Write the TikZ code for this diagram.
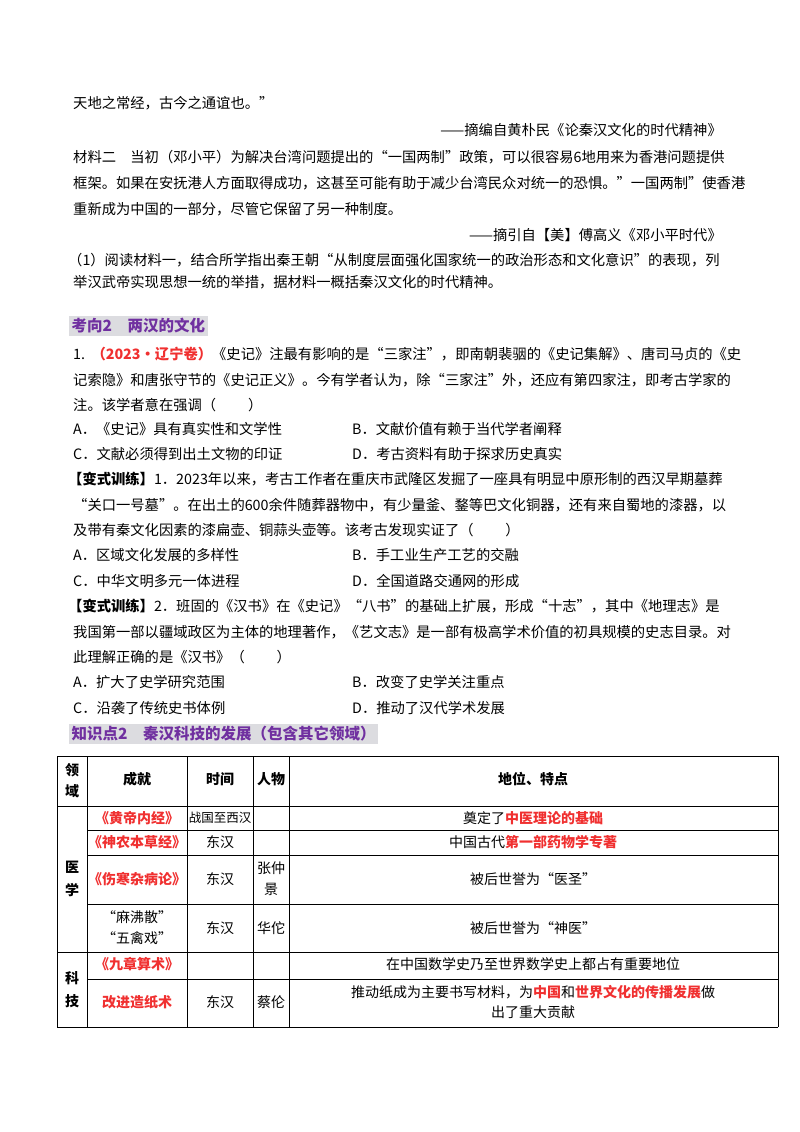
\documentclass[tikz,border=0pt]{standalone}
\usepackage{fontspec}
\setmainfont{Noto Sans CJK SC}
\newfontfamily\cjk{Noto Sans CJK SC}
\definecolor{hred}{HTML}{F03030}
\definecolor{hpur}{HTML}{7030A0}
\definecolor{hgray}{HTML}{DCDCE0}
\begin{document}
\begin{tikzpicture}[x=1pt,y=-1pt,
  t/.style={anchor=west,inner sep=0pt,font=\fontsize{14.3}{15}\selectfont},
  r/.style={anchor=east,inner sep=0pt,font=\fontsize{14.3}{15}\selectfont},
  hd/.style={anchor=west,inner sep=2.5pt,fill=hgray,text=hpur,font=\fontsize{15.5}{17}\selectfont\bfseries},
  c/.style={inner sep=0pt,font=\fontsize{14}{15}\selectfont,align=center},
  cb/.style={c,font=\fontsize{14}{15}\selectfont\bfseries},
  rb/.style={text=hred,font=\fontsize{14}{15}\selectfont\bfseries},
  grid/.style={line width=0.8pt}]
\useasboundingbox (0,0) rectangle (800,1132);
\node[t] (l1) at (73,103) {天地之常经，古今之通谊也。”};
\node[r] (l2) at (722,130) {——摘编自黄朴民《论秦汉文化的时代精神》};
\node[t] (l3) at (73,157) {材料二\quad 当初（邓小平）为解决台湾问题提出的“一国两制”政策，可以很容易6地用来为香港问题提供};
\node[t] (l4) at (73,183) {框架。如果在安抚港人方面取得成功，这甚至可能有助于减少台湾民众对统一的恐惧。"一国两制"使香港};
\node[t] (l5) at (73,209) {重新成为中国的一部分，尽管它保留了另一种制度。};
\node[r] (l6) at (722,235) {——摘引自【美】傅高义《邓小平时代》};
\node[t] (l7) at (68,260) {（1）阅读材料一，结合所学指出秦王朝“从制度层面强化国家统一的政治形态和文化意识”的表现，列};
\node[t] (l8) at (73,282) {举汉武帝实现思想一统的举措，据材料一概括秦汉文化的时代精神。};
\node[hd] (h1) at (69,326) {考向2\quad 两汉的文化};
\node[t] (q1) at (73,354) {1.\ \ {\color{hred}\bfseries（2023·辽宁卷）}《史记》注最有影响的是“三家注”，即南朝裴骃的《史记集解》、唐司马贞的《史};
\node[t] (q2) at (73,380) {记索隐》和唐张守节的《史记正义》。今有学者认为，除“三家注”外，还应有第四家注，即考古学家的};
\node[t] (q3) at (73,405) {注。该学者意在强调（\qquad\ ）};
\node[t] (q4) at (73,429) {A．《史记》具有真实性和文学性};
\node[t] (q5) at (352,429) {B．文献价值有赖于当代学者阐释};
\node[t] (q6) at (73,454) {C．文献必须得到出土文物的印证};
\node[t] (q7) at (352,454) {D．考古资料有助于探求历史真实};
\node[t] (v1) at (68,479) {\textbf{【变式训练】}1．2023年以来，考古工作者在重庆市武隆区发掘了一座具有明显中原形制的西汉早期墓葬};
\node[t] (v2) at (73,505) {“关口一号墓”。在出土的600余件随葬器物中，有少量釜、鍪等巴文化铜器，还有来自蜀地的漆器，以};
\node[t] (v3) at (73,530) {及带有秦文化因素的漆扁壶、铜蒜头壶等。该考古发现实证了（\qquad\ ）};
\node[t] (v4) at (73,555) {A．区域文化发展的多样性};
\node[t] (v5) at (352,555) {B．手工业生产工艺的交融};
\node[t] (v6) at (73,581) {C．中华文明多元一体进程};
\node[t] (v7) at (352,581) {D．全国道路交通网的形成};
\node[t] (w1) at (68,606) {\textbf{【变式训练】}2．班固的《汉书》在《史记》“八书”的基础上扩展，形成“十志”，其中《地理志》是};
\node[t] (w2) at (73,632) {我国第一部以疆域政区为主体的地理著作，《艺文志》是一部有极高学术价值的初具规模的史志目录。对};
\node[t] (w3) at (73,657) {此理解正确的是《汉书》（\qquad\ ）};
\node[t] (w4) at (73,682) {A．扩大了史学研究范围};
\node[t] (w5) at (352,682) {B．改变了史学关注重点};
\node[t] (w6) at (73,708) {C．沿袭了传统史书体例};
\node[t] (w7) at (352,708) {D．推动了汉代学术发展};
\node[hd] (h2) at (69,734) {知识点2\quad 秦汉科技的发展（包含其它领域）};
% table
\draw[grid] (57,756) -- (778,756) (57,1027) -- (778,1027) (57,756) -- (57,1027) (778,756) -- (778,1027);
\draw[grid] (87,756) -- (87,1027) (187,756) -- (187,1027) (253,756) -- (253,1027) (289,756) -- (289,1027);
\draw[grid] (57,806) -- (778,806) (57,952) -- (778,952);
\draw[grid] (87,830) -- (778,830) (87,855) -- (778,855) (87,904) -- (778,904) (87,979) -- (778,979);
\node[cb] (a1) at (72,781) {领\\[6pt]域};
\node[cb] (a2) at (137,779) {成就};
\node[cb] (a3) at (220,779) {时间};
\node[cb] (a4) at (271,779) {人物};
\node[cb] (a5) at (533,779) {地位、特点};
\node[cb] (b1) at (72,879) {医\\[8pt]学};
\node[cb] (b2) at (72,990) {科\\[8pt]技};
\node[c,rb] (c1) at (137,818) {《黄帝内经》};
\node[c,font=\fontsize{12.5}{14}\selectfont] (c2) at (220,818) {战国至西汉};
\node[c] (c3) at (533,818) {奠定了{\color{hred}\bfseries 中医理论的基础}};
\node[c,rb] (d1) at (137,842) {《神农本草经》};
\node[c] (d2) at (220,842) {东汉};
\node[c] (d3) at (533,842) {中国古代{\color{hred}\bfseries 第一部药物学专著}};
\node[c,rb] (e1) at (137,879) {《伤寒杂病论》};
\node[c] (e2) at (220,879) {东汉};
\node[c] (e3) at (271,879) {张仲\\[6pt]景};
\node[c] (e4) at (533,879) {被后世誉为“医圣”};
\node[c] (f1) at (137,928) {“麻沸散”\\[6pt]“五禽戏”};
\node[c] (f2) at (220,928) {东汉};
\node[c] (f3) at (271,928) {华佗};
\node[c] (f4) at (533,928) {被后世誉为“神医”};
\node[c,rb] (g1) at (137,964) {《九章算术》};
\node[c] (g2) at (533,964) {在中国数学史乃至世界数学史上都占有重要地位};
\node[c,rb] (k1) at (137,1002) {改进造纸术};
\node[c] (k2) at (220,1002) {东汉};
\node[c] (k3) at (271,1002) {蔡伦};
\node[c] (k4) at (533,1002) {推动纸成为主要书写材料，为{\color{hred}\bfseries 中国}和{\color{hred}\bfseries 世界文化的传播发展}做\\[5pt]出了重大贡献};
\end{tikzpicture}
\end{document}
